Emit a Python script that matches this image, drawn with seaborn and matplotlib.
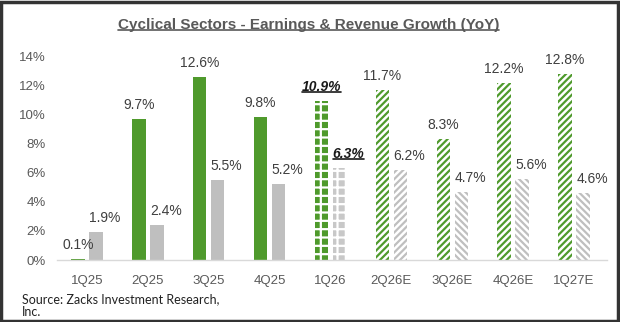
import matplotlib
matplotlib.use("Agg")
import matplotlib.pyplot as plt
from matplotlib.lines import Line2D
from matplotlib.patches import Rectangle
import seaborn as sns
import pandas as pd

quarters = ["1Q25", "2Q25", "3Q25", "4Q25", "1Q26", "2Q26E", "3Q26E", "4Q26E", "1Q27E"]
earnings = [0.1, 9.7, 12.6, 9.8, 10.9, 11.7, 8.3, 12.2, 12.8]
revenue = [1.9, 2.4, 5.5, 5.2, 6.3, 6.2, 4.7, 5.6, 4.6]
y_ticks = [0, 2, 4, 6, 8, 10, 12, 14]
current_q = "1Q26"

GREEN = "#4f9a2c"
GRAY = "#bfbfbf"
TEXT = "#595959"
LABEL = "#3f3f3f"

sns.set_theme(style="white")
plt.rcParams["font.family"] = ["Liberation Sans", "DejaVu Sans"]
plt.rcParams["hatch.linewidth"] = 1.6

df = pd.DataFrame({
    "Quarter": quarters * 2,
    "Growth": earnings + revenue,
    "Series": ["Earnings"] * len(quarters) + ["Revenue"] * len(quarters),
})

fig = plt.figure(figsize=(6.2, 3.22), dpi=100)
ax = fig.add_axes([0.092, 0.1925, 0.887, 0.6326])

sns.barplot(data=df, x="Quarter", y="Growth", hue="Series", order=quarters,
            palette={"Earnings": GREEN, "Revenue": GRAY}, width=0.59, gap=0.25,
            saturation=1, legend=False, ax=ax, linewidth=0)

earn_bars, rev_bars = ax.containers[0], ax.containers[1]

for i, q in enumerate(quarters):
    eb, rb = earn_bars[i], rev_bars[i]
    if q == current_q:
        eb.set_facecolor(GREEN)
        eb.set_edgecolor("white")
        eb.set_hatch("++")
        rb.set_facecolor("#c8c8c8")
        rb.set_edgecolor("white")
        rb.set_hatch("++")
    elif q.endswith("E"):
        eb.set_facecolor("white")
        eb.set_edgecolor(GREEN)
        eb.set_hatch("/////")
        rb.set_facecolor("white")
        rb.set_edgecolor(GRAY)
        rb.set_hatch("/////" if q == "2Q26E" else "\\\\\\\\\\")
    eb.set_linewidth(0)
    rb.set_linewidth(0)

ax.set_xlim(-0.49, 8.54)
ax.set_ylim(0, 14)
ax.set_yticks(y_ticks)
ax.set_yticklabels([f"{t}%" for t in y_ticks])
ax.set_xlabel("")
ax.set_ylabel("")
ax.tick_params(axis="y", length=0, pad=8, labelsize=9.5, labelcolor=TEXT)
ax.tick_params(axis="x", length=0, pad=11, labelsize=9.5, labelcolor=TEXT)
for side in ["top", "right", "left"]:
    ax.spines[side].set_visible(False)
ax.spines["bottom"].set_color("#d9d9d9")
ax.spines["bottom"].set_linewidth(1)
ax.grid(False)

underlined = []
for i, q in enumerate(quarters):
    eb, rb = earn_bars[i], rev_bars[i]
    bold = q == current_q
    style = dict(fontsize=10, color=LABEL if not bold else "#1a1a1a",
                 fontweight="bold" if bold else "normal",
                 fontstyle="italic" if bold else "normal")
    t1 = ax.annotate(f"{earnings[i]:.1f}%", (eb.get_x() + eb.get_width() / 2, earnings[i]),
                     xytext=(0, 5), textcoords="offset points", ha="center", va="bottom",
                     annotation_clip=False, **style)
    t2 = ax.annotate(f"{revenue[i]:.1f}%", (rb.get_x(), revenue[i]),
                     xytext=(0, 5), textcoords="offset points", ha="left", va="bottom",
                     annotation_clip=False, **style)
    if bold:
        underlined += [t1, t2]

title = fig.text(0.498, 0.91, "Cyclical Sectors - Earnings & Revenue Growth (YoY)",
                 ha="center", va="baseline", fontsize=11, fontweight="bold", color=TEXT)

src = dict(ha="left", va="baseline", fontsize=9, color="#222222", family=["Lato", "DejaVu Sans"])
fig.text(0.036, 0.06, "Source: Zacks Investment Research,", **src)
fig.text(0.036, 0.018, "Inc.", **src)

# underline the title and the current-quarter labels
fig.canvas.draw()
renderer = fig.canvas.get_renderer()
W, H = fig.bbox.width, fig.bbox.height
for txt in [title] + underlined:
    bb = txt.get_window_extent(renderer)
    if txt is title:
        y, col = (bb.y0 + 1.5) / H, TEXT
    else:
        y, col = (bb.y0 + 2.5) / H, "#1a1a1a"
    fig.add_artist(Line2D([bb.x0 / W, bb.x1 / W], [y, y], transform=fig.transFigure,
                          color=col, lw=1.2))

fig.add_artist(Rectangle((0.002, 0.003), 0.995, 0.992, transform=fig.transFigure,
                         fill=False, edgecolor="#333333", linewidth=2.5))

fig.savefig("out.png", dpi=100)
